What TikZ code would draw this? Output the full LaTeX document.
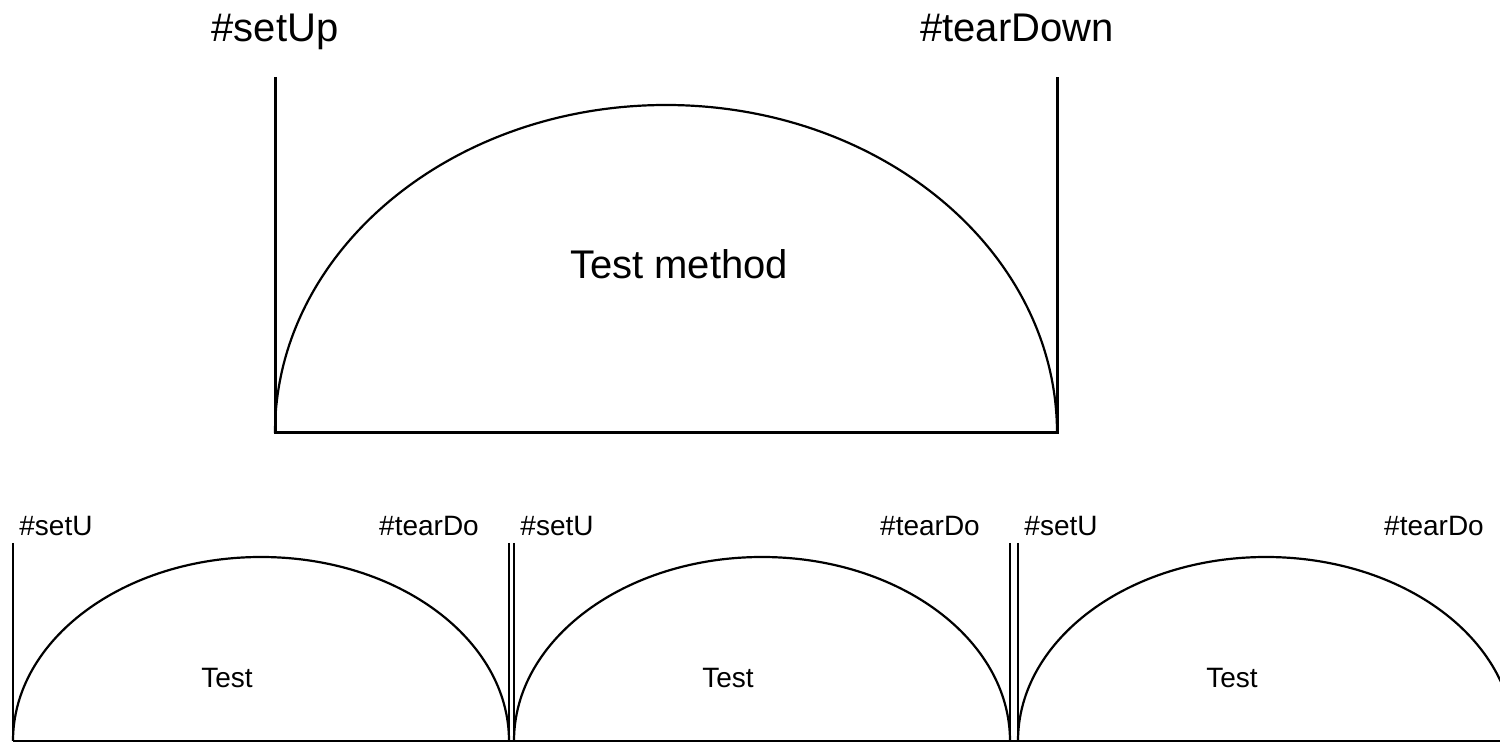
\documentclass[tikz,border=0pt]{standalone}
\usepackage{fontspec}
\setmainfont{Liberation Sans}
\begin{document}
\begin{tikzpicture}[x=0.5pt,y=-0.5pt,
  biglabel/.style={font=\fontsize{20}{24}\selectfont, anchor=base, inner sep=0pt},
  smalllabel/.style={font=\fontsize{14}{17}\selectfont, anchor=base, inner sep=0pt},
  thickline/.style={line width=1.5pt},
  thinline/.style={line width=1.4pt},
  arcline/.style={line width=1.1pt}]
\clip (0,0) rectangle (1500,742);
% top diagram
\coordinate (tl) at (275,77);
\coordinate (bl) at (275,433);
\coordinate (br) at (1057,433);
\coordinate (tr) at (1057,77);
\draw[thickline] (tl) -- (bl) -- (br) -- (tr);
\draw[arcline] (bl) arc[start angle=180,end angle=360,x radius=391,y radius=328];
\node[biglabel] (su) at (275,42) {\#setUp};
\node[biglabel] (td) at (1017,42) {\#tearDown};
\node[biglabel] (tm) at (679,279) {Test method};
% bottom baseline
\coordinate (b0) at (13,741);
\coordinate (b1) at (1500,741);
\draw[thinline] (b0) -- (b1);
% bottom panels
\foreach \L/\R/\i in {13/509/1, 514/1010/2, 1018/1514/3}{
  \coordinate (l\i t) at (\L,543);
  \coordinate (l\i b) at (\L,741);
  \coordinate (r\i t) at (\R,543);
  \coordinate (r\i b) at (\R,741);
  \draw[thinline] (l\i t) -- (l\i b);
  \draw[thinline] (r\i t) -- (r\i b);
  \draw[arcline] (l\i b) arc[start angle=180,end angle=360,x radius=248,y radius=184];
  \node[smalllabel] (s\i) at (\L+43,536) {\#setU};
  \node[smalllabel] (t\i) at (\L+416,536) {\#tearDo};
  \node[smalllabel] (x\i) at (\L+214,688) {Test};
}
\end{tikzpicture}
\end{document}
